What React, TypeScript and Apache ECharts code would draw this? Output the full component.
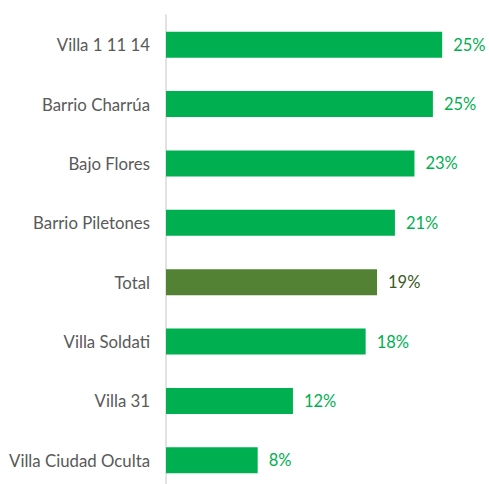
import React, { useEffect, useRef } from "react";
import * as echarts from "echarts";

const categories = [
  "Villa 1 11 14",
  "Barrio Charrúa",
  "Bajo Flores",
  "Barrio Piletones",
  "Total",
  "Villa Soldati",
  "Villa 31",
  "Villa Ciudad Oculta",
];
const values = [25.45, 24.6, 22.9, 21.1, 19.45, 18.4, 11.7, 8.45];
const highlightCategory = "Total";

const GREEN = "#00B050";
const DARK_GREEN = "#548235";
const DARK_LABEL = "#3A5A24";

export default function App() {
  const ref = useRef<HTMLDivElement>(null);
  useEffect(() => {
    document.body.style.margin = "0";
    if (!ref.current) return;
    const chart = echarts.init(ref.current, undefined, { renderer: "svg" });
    chart.setOption({
      animation: false,
      grid: {
        left: 166,
        top: 15,
        width: 325.5,
        height: 475,
        containLabel: false,
        outerBoundsMode: "none",
      },
      xAxis: {
        type: "value",
        min: 0,
        max: 30,
        show: false,
        splitLine: { show: false },
      },
      yAxis: {
        type: "category",
        data: categories,
        inverse: true,
        axisLine: { show: true, lineStyle: { color: "#D9D9D9", width: 1.5 } },
        axisTick: { show: false },
        axisLabel: {
          color: "#595959",
          fontSize: 16.8,
          fontFamily: "Lato",
          margin: 16,
        },
      },
      series: [
        {
          type: "bar",
          barWidth: 26,
          data: values.map((v, i) => {
            const hi = categories[i] === highlightCategory;
            return {
              value: v,
              itemStyle: { color: hi ? DARK_GREEN : GREEN },
              label: { color: hi ? DARK_LABEL : GREEN },
            };
          }),
          label: {
            show: true,
            position: "right",
            distance: 11,
            fontSize: 16.5,
            fontFamily: "Lato",
            formatter: (p: any) => Math.round(p.value) + "%",
          },
        },
      ],
    });
    return () => chart.dispose();
  }, []);
  return <div ref={ref} style={{ width: 489, height: 484 }} />;
}
